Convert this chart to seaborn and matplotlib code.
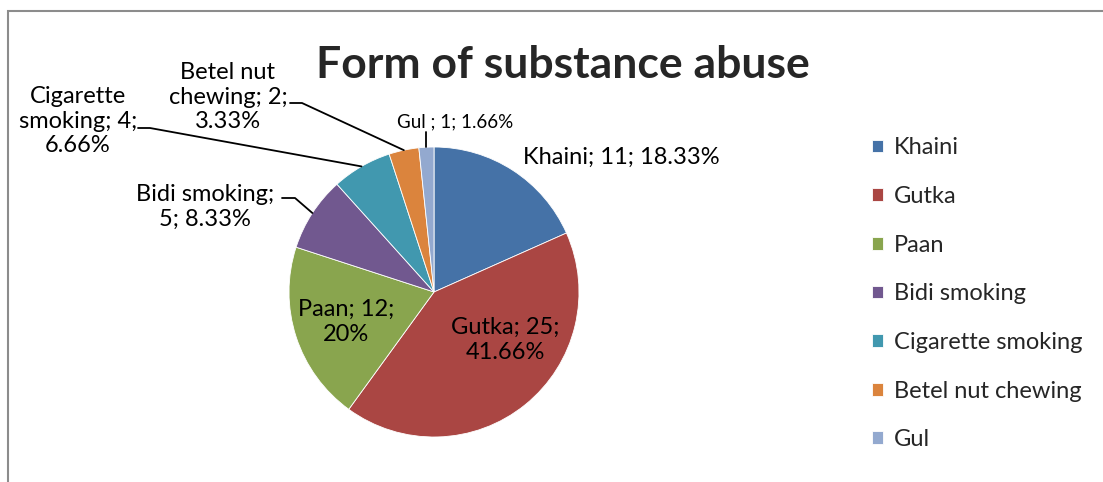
import seaborn as sns
import matplotlib.pyplot as plt
from matplotlib.patches import Rectangle
import numpy as np

# data
substances = ["Khaini", "Gutka", "Paan", "Bidi smoking", "Cigarette smoking",
              "Betel nut chewing", "Gul"]
counts = [11, 25, 12, 5, 4, 2, 1]
label_texts = ["Khaini; 11; 18.33%", "Gutka; 25;\n41.66%", "Paan; 12;\n20%",
               "Bidi smoking;\n5; 8.33%", "Cigarette\nsmoking; 4;\n6.66%",
               "Betel nut\nchewing; 2;\n3.33%", "Gul ; 1; 1.66%"]
colors = ["#4572A7", "#AA4643", "#89A54E", "#71588F", "#4198AF", "#DB843D", "#93A9CF"]

sns.set_theme(style="white")
plt.rcParams['font.family'] = ['Lato', 'DejaVu Sans']

W, H = 1103, 482
CX, CY, R = 434, 292, 145  # pie centre / radius in pixels

fig = plt.figure(figsize=(W / 100, H / 100), dpi=100)
ax = fig.add_axes([0, 0, 1, 1])


def px(x, y):
    # pixel position -> data coords (pie radius = 1)
    return (x - CX) / R, (CY - y) / R


wedges, _ = ax.pie(counts, colors=colors, startangle=90, counterclock=False,
                   radius=1, wedgeprops=dict(edgecolor="white", linewidth=0.6))
ax.set_xlim(-CX / R, (W - CX) / R)
ax.set_ylim(-(H - CY) / R, CY / R)
ax.set_aspect("equal")
ax.axis("off")

# label placement (pixel layout), inside / outside like Excel's best fit
label_pos = [(523, 157, "left"), (505, 340, "center"), (346, 322, "center"),
             (205, 207, "center"), (78, 121, "center"), (228, 97, "center"),
             (455, 122, "center")]
label_size = [17, 17, 17, 17, 17, 17, 13.5]
for txt, (lx, ly, ha), fs in zip(label_texts, label_pos, label_size):
    x, y = px(lx, ly)
    ax.text(x, y, txt, ha=ha, va="center", fontsize=fs, linespacing=1.2,
            color="black")

# leader lines: knee point(s) then the rim at the wedge mid angle
knees = {3: [(282, 198), (295, 198)], 4: [(138, 128), (150, 128)],
         5: [(290, 103), (302, 103)], 6: [(427, 132)]}
for i, pts in knees.items():
    w = wedges[i]
    mid = np.deg2rad((w.theta1 + w.theta2) / 2)
    xs = [px(*p)[0] for p in pts] + [np.cos(mid)]
    ys = [px(*p)[1] for p in pts] + [np.sin(mid)]
    if i == 6:
        xs[0] = np.cos(mid)
    ax.plot(xs, ys, color="black", lw=1.3)

fig.text(563 / W, 1 - 65 / H, "Form of substance abuse", ha="center", va="center",
         fontsize=32, fontweight="bold")

fig.legend(wedges, substances, loc="upper left", bbox_to_anchor=(863 / W, 1 - 128 / H),
           frameon=False, fontsize=17, labelspacing=1.17, handlelength=0.45,
           handleheight=0.45, handletextpad=0.45, borderaxespad=0)

fig.patches.append(Rectangle((8 / W, -0.1), 1.2, 1.1 - 11 / H, transform=fig.transFigure,
                             fill=False, edgecolor="#8c8c8c", linewidth=1.5))

plt.savefig("out.png", dpi=100)
